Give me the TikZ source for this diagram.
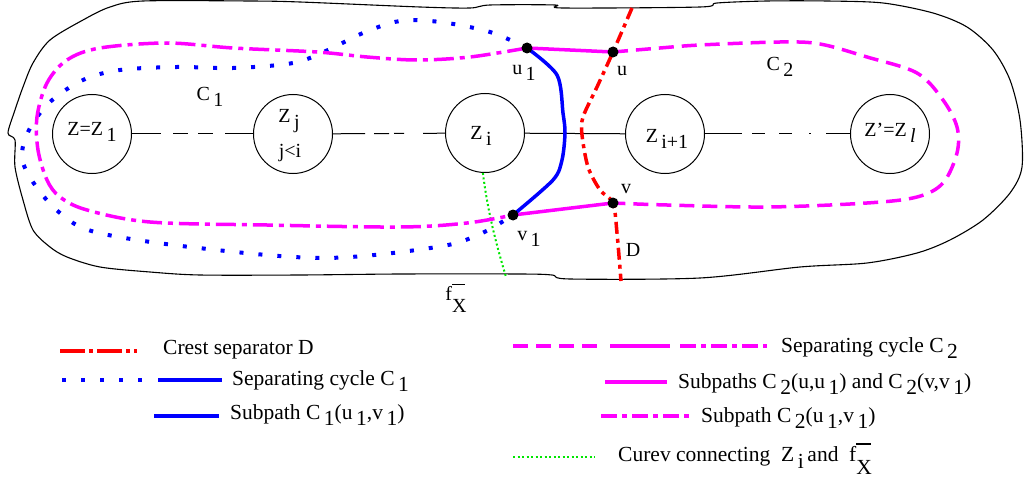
\documentclass[tikz,border=0pt]{standalone}
\usepackage{fontspec}
\setmainfont{Liberation Serif}
\usetikzlibrary{calc}
\definecolor{mag}{RGB}{255,0,255}
\definecolor{grn}{RGB}{0,230,0}
\newcommand{\lw}[1]{\,\raisebox{-0.32em}{#1}}
\newcommand{\fX}{f\raisebox{-0.62em}{\rlap{\rule[1.38em]{0.66em}{0.07em}}X}}
\begin{document}
\begin{tikzpicture}[x=1pt,y=-1pt,
  zc/.style={circle,draw,line width=1pt,minimum size=79pt,inner sep=0pt},
  lbl/.style={font=\fontsize{20}{22}\selectfont,inner sep=0pt},
  leg/.style={font=\fontsize{21.5}{24}\selectfont,anchor=west,inner sep=0pt},
  vtx/.style={circle,fill=black,minimum size=11pt,inner sep=0pt},
  thinl/.style={line width=1pt},
  outl/.style={line width=1.1pt},
  magsolid/.style={draw=mag,line width=3.5pt},
  magdd/.style={draw=mag,line width=3.5pt,dash pattern=on 20pt off 6pt on 5pt off 6pt},
  magdash/.style={draw=mag,line width=3.5pt,dash pattern=on 15pt off 8pt},
  bluesolid/.style={draw=blue,line width=3.5pt},
  bluedot/.style={draw=blue,line width=4pt,dash pattern=on 4pt off 15pt},
  reddd/.style={draw=red,line width=3.5pt,dash pattern=on 12pt off 5pt on 4pt off 5pt},
  greendot/.style={draw=grn,line width=2pt,dash pattern=on 2pt off 2.5pt}]
\useasboundingbox (0,0) rectangle (1036,484);

% outer region
\draw[outl] plot[smooth cycle,tension=0.5] coordinates {
 (143,1) (110,7) (83,20) (50,40) (33,63) (23,87) (15,110) (8,133) (15,140)
 (15,167) (23,200) (33,230) (50,247) (67,257) (100,267) (150,272) (200,275)
 (300,275) (400,274) (520,274) (552,275) (570,279) (700,278) (800,267)
 (867,263) (917,253) (950,240) (983,220) (1010,193) (1022,167) (1020,120)
 (1010,80) (993,50) (967,27) (933,13) (883,3) (827,1) (767,1) (717,3)
 (700,7) (563,8) (555,5) (490,5) (470,8) (420,7) (300,2) (250,1)};

% circles
\node[zc] (z1) at (92,134) {};
\node[zc] (zj) at (293,134) {};
\node[zc] (zi) at (485,133) {};
\node[zc] (zi1) at (665,134) {};
\node[zc] (zl) at (890,134) {};
\node[lbl] at (92,132) {Z=Z\lw{1}};
\node[lbl] at (289,121) {Z\lw{j}};
\node[lbl] at (290,153) {j<i};
\node[lbl] at (481,136) {Z\lw{i}};
\node[lbl] at (667,139) {Z\lw{i+1}};
\node[lbl] at (890,133) {Z’=Z\lw{\textit{l}}};

% connections between circles
\draw[thinl,dash pattern=on 29pt off 12pt on 15pt off 10pt on 15pt off 12pt on 40pt] (z1) -- (zj);
\draw[thinl,dash pattern=on 32pt off 9pt on 15pt off 5pt on 10pt off 19pt on 40pt] (zj) -- (zi);
\draw[thinl] (zi) -- (zi1);
\draw[thinl,dash pattern=on 37pt off 10pt on 13pt off 14pt on 13pt off 17pt on 2pt off 15pt on 40pt] (zi1) -- (zl);

% vertices
\coordinate (u1) at (527,48);
\coordinate (u) at (613,52);
\coordinate (v1) at (513,215);
\coordinate (v) at (613,203);
\coordinate (Dtop) at (632,8);
\coordinate (Dbot) at (621,281);
\coordinate (fx) at (506,277);

% green curve
\draw[greendot] (zi.-93) .. controls (488,215) and (498,250) .. (fx);

% blue dotted C1
\draw[bluedot] plot[smooth,tension=0.55] coordinates {
 (u1) (490,32) (440,22) (400,21) (363,33) (328,50) (293,63) (233,68) (177,67)
 (120,70) (83,80) (50,102) (29,130) (22,158) (35,185) (60,213) (95,232)
 (190,247) (323,258) (437,247) (480,234) (v1)};

% magenta dash-dot C2(u1,v1)
\draw[magdd] plot[smooth,tension=0.55] coordinates {
 (u1) (470,57) (417,60) (367,57) (317,52) (233,48) (167,43) (100,48) (67,60)
 (47,83) (37,117) (38,150) (47,180) (60,197) (87,210) (150,222) (267,225)
 (400,227) (467,223) (v1)};

% magenta dashed C2
\draw[magdash] plot[smooth,tension=0.55] coordinates {
 (u) (660,48) (700,45) (780,42) (820,44) (867,57) (917,73) (943,100)
 (957,127) (957,153) (943,183) (917,197) (867,203) (767,207) (667,205) (v)};

% magenta solid subpaths
\draw[magsolid] (u1) -- (u);
\draw[magsolid] (v1) -- (v);

% blue solid C1(u1,v1)
\draw[bluesolid] plot[smooth,tension=0.5] coordinates {
 (u1) (557,75) (563,113) (565,133) (562,160) (553,180) (v1)};

% red crest separator D
\draw[reddd] plot[smooth,tension=0.5] coordinates {
 (Dtop) (u) (597,87) (583,117) (582,135) (588,167) (600,190) (v) (617,233) (Dbot)};

\node[vtx] (nu1) at (u1) {};
\node[vtx] (nu) at (u) {};
\node[vtx] (nv1) at (v1) {};
\node[vtx] (nv) at (v) {};

% labels
\node[lbl] at (210,97) {C\lw{1}};
\node[lbl] at (780,67) {C\lw{2}};
\node[lbl] at (524,73) {u\lw{1}};
\node[lbl] at (622,71) {u};
\node[lbl] at (529,239) {v\lw{1}};
\node[lbl] at (626,189) {v};
\node[lbl] at (633,250) {D};
\node[lbl] at (456,298) {\fX};

% legend
\draw[draw=red,line width=3.5pt,dash pattern=on 25pt off 4pt on 4pt off 4pt] (60,351) -- (137,351);
\node[leg] at (163,350) {Crest separator D};
\draw[draw=blue,line width=3.5pt,dash pattern=on 4pt off 15pt] (62,380) -- (145,380);
\draw[bluesolid] (158,380) -- (222,380);
\node[leg] at (232,381) {Separating cycle C\lw{1}};
\draw[bluesolid] (154,416) -- (219,416);
\node[leg] at (230,415) {Subpath C\lw{1}(u\lw{1},v\lw{1})};

\draw[magdash] (513,346) -- (598,346);
\draw[magsolid] (610,346) -- (670,346);
\draw[draw=mag,line width=3.5pt,dash pattern=on 16pt off 5pt on 5pt off 5pt] (680,346) -- (767,346);
\node[leg] at (781,348) {Separating cycle C\lw{2}};
\draw[magsolid] (605,382) -- (667,382);
\node[leg] at (678,384) {Subpaths C\lw{2}(u,u\lw{1}) and C\lw{2}(v,v\lw{1})};
\draw[draw=mag,line width=3.5pt,dash pattern=on 16pt off 5pt on 5pt off 5pt] (601,416) -- (690,416);
\node[leg] at (701,418) {Subpath C\lw{2}(u\lw{1},v\lw{1})};
\draw[greendot] (513,457) -- (595,457);
\node[leg] at (618,459) {Curev connecting \ Z\lw{i}\,and \ \fX};
\end{tikzpicture}
\end{document}
